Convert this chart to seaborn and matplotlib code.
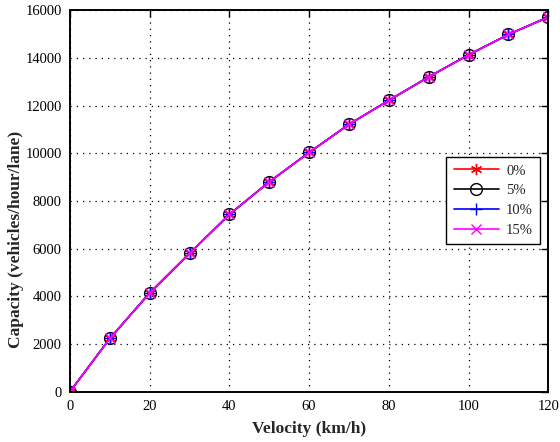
import numpy as np
import pandas as pd
import seaborn as sns
import matplotlib.pyplot as plt

# velocity (km/h) and capacity (veh/hour/lane)
velocity = [0, 10, 20, 30, 40, 50, 60, 70, 80, 90, 100, 110, 120]
capacity = [0, 2230, 4140, 5800, 7430, 8800, 10030, 11210, 12215, 13200, 14125, 14980, 15710]

# the four cases lie on top of each other
series_names = ['0%', '5%', '10%', '15%']
series_colors = ['red', 'black', 'blue', 'magenta']
series_markers = [(6, 2, 0), 'o', '+', 'x']
series_msize = [8, 8.5, 9, 6.5]

rows = []
for name in series_names:
    for v, c in zip(velocity, capacity):
        rows.append({'velocity': v, 'capacity': c, 'case': name})
df = pd.DataFrame(rows)

sns.set_style('white')
plt.rcParams['font.family'] = ['Liberation Serif', 'DejaVu Serif']

fig = plt.figure(figsize=(5.6, 4.42), dpi=100)
ax = fig.add_axes([0.125, 0.114, 0.854, 0.863])

for name, col, mk, ms in zip(series_names, series_colors, series_markers, series_msize):
    sub = df[df['case'] == name]
    kw = dict(marker=mk, color=col, linewidth=1.2, markersize=ms,
              markeredgecolor=col, markeredgewidth=1.0)
    if mk == 'o':
        kw['markerfacecolor'] = 'none'
    sns.lineplot(data=sub, x='velocity', y='capacity', ax=ax, label=name, **kw)

ax.set_xlim(0, 120)
ax.set_ylim(0, 16000)
ax.set_xticks(np.arange(0, 121, 20))
ax.set_yticks(np.arange(0, 16001, 2000))
ax.grid(True, linestyle=(0, (1, 4)), color='black', linewidth=0.9)
ax.tick_params(direction='in', length=5, width=1.0, top=True, right=True,
               labelsize=10.5, colors='black', pad=6)
for s in ax.spines.values():
    s.set_color('black')
    s.set_linewidth(1.4)

ax.set_xlabel('Velocity (km/h)', fontsize=12.5, fontweight='bold', labelpad=6)
ax.set_ylabel('Capacity (vehicles/hour/lane)', fontsize=12.5, fontweight='bold')
ax.yaxis.set_label_coords(-0.097, 0.40)

leg = ax.legend(loc='upper left', bbox_to_anchor=(0.787, 0.615), borderaxespad=0,
                fontsize=10.5, fancybox=False, framealpha=1, edgecolor='black',
                handlelength=3.1, handletextpad=0.5, borderpad=0.5, labelspacing=0.45)
leg.get_frame().set_linewidth(1.0)

fig.savefig('out.png', dpi=100)
